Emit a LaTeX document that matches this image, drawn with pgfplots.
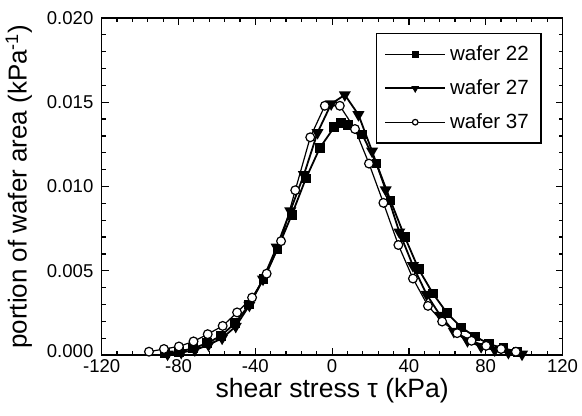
\documentclass[border=0pt]{standalone}
\usepackage{fontspec}
\setmainfont{Liberation Sans}
\usepackage{pgfplots}
\pgfplotsset{compat=1.18}

\begin{document}
\begin{tikzpicture}
  \begin{axis}[
      scale only axis,
      width=231pt, height=169pt,
      xmin=-120, xmax=120,
      ymin=0, ymax=0.020,
      xtick={-120,-80,...,120},
      ytick={0,0.005,...,0.020},
      yticklabels={\raisebox{2pt}[\height][\depth]{0.000},0.005,0.010,0.015,0.020},
      minor x tick num=4,
      minor y tick num=4,
      tick align=inside,
      major tick length=3.5pt,
      minor tick length=2pt,
      axis line style={line width=0.75pt},
      every tick/.style={black, line width=0.6pt},
      scaled y ticks=false,
      yticklabel style={inner sep=4pt},
      /pgf/number format/assume math mode=true,
      tick label style={font=\fontsize{9.3}{11}\selectfont},
      xticklabel style={inner sep=2pt},
      xlabel={shear stress τ (kPa)},
      ylabel={portion of wafer area (kPa\textsuperscript{-1})},
      every axis x label/.style={at={(axis description cs:0.5,0)}, anchor=north,
        inner sep=1pt, yshift=-10.5pt, font=\fontsize{13.3}{15}\selectfont},
      every axis y label/.style={at={(axis description cs:-0.18,0.5)}, rotate=90,
        anchor=center, inner sep=1pt, font=\fontsize{13}{15}\selectfont},
      legend style={at={(rel axis cs:0.9545,0.9556)}, anchor=north east,
        draw=black, line width=0.75pt, font=\fontsize{10.3}{12}\selectfont,
        row sep=4pt, inner xsep=4pt, inner ysep=4pt, cells={anchor=west}},
      legend image code/.code={\draw[mark repeat=2,mark phase=2,#1]
        plot coordinates {(0pt,0pt)(15pt,0pt)(30pt,0pt)};},
      legend image post style={mark size=1.4pt},
    ]
    \path (rel axis cs:0,0) ++(-51pt,-30.5pt) coordinate (bbA);
    \path (rel axis cs:1,1) ++(9pt,9pt) coordinate (bbB);

    \addplot[black, line width=0.9pt, mark=square*, mark size=2pt] coordinates {
      (-87.2,0.00010) (-79.9,0.00020) (-72.5,0.00040) (-65.2,0.00070)
      (-57.8,0.00115) (-50.5,0.00190) (-43.1,0.00300) (-35.8,0.00450)
      (-28.4,0.00631) (-21.1,0.00830) (-13.7,0.01047) (-6.4,0.01229)
      (1.0,0.01351) (4.5,0.01375) (8.4,0.01367) (15.7,0.01308) (23.1,0.01136)
      (30.4,0.00917) (37.8,0.00702) (45.1,0.00509) (52.5,0.00365)
      (59.8,0.00250) (67.2,0.00164) (74.5,0.00110) (81.9,0.00065)
      (89.2,0.00040) (96.6,0.00020)
    };
    \addlegendentry{wafer 22}

    \addplot[black, line width=0.9pt, mark=triangle*, mark size=2.6pt,
      mark options={rotate=180}] coordinates {
      (-85.7,0.00005) (-78.6,0.00015) (-71.5,0.00030) (-64.4,0.00060)
      (-57.3,0.00100) (-50.2,0.00170) (-43.1,0.00295) (-36.0,0.00450)
      (-28.9,0.00640) (-21.8,0.00855) (-14.7,0.01070) (-7.6,0.01320)
      (-0.5,0.01490) (6.6,0.01544) (13.7,0.01426) (20.8,0.01210)
      (27.9,0.00980) (35.0,0.00730) (42.1,0.00530) (49.2,0.00360)
      (56.3,0.00235) (63.4,0.00140) (70.5,0.00085) (77.6,0.00050)
      (84.7,0.00030) (91.8,0.00015) (98.9,0.00005)
    };
    \addlegendentry{wafer 27}

    \addplot[black, line width=0.6pt, mark=*, mark size=2.2pt,
      mark options={fill=white, line width=0.6pt}] coordinates {
      (-95.4,0.00020) (-87.6,0.00036) (-79.8,0.00051) (-72.2,0.00081)
      (-64.8,0.00124) (-57.0,0.00173) (-49.5,0.00253) (-41.7,0.00341)
      (-34.1,0.00483) (-26.6,0.00676) (-19.2,0.00978) (-11.4,0.01292)
      (-3.8,0.01479) (4.0,0.01479) (11.9,0.01341) (19.2,0.01136)
      (26.7,0.00903) (34.5,0.00653) (42.1,0.00454) (49.9,0.00292)
      (57.3,0.00199) (65.1,0.00130) (72.6,0.00085) (80.2,0.00055)
      (88.0,0.00036) (95.7,0.00020)
    };
    \addlegendentry{wafer 37}
  \end{axis}
  \useasboundingbox (bbA) rectangle (bbB);
\end{tikzpicture}
\end{document}
